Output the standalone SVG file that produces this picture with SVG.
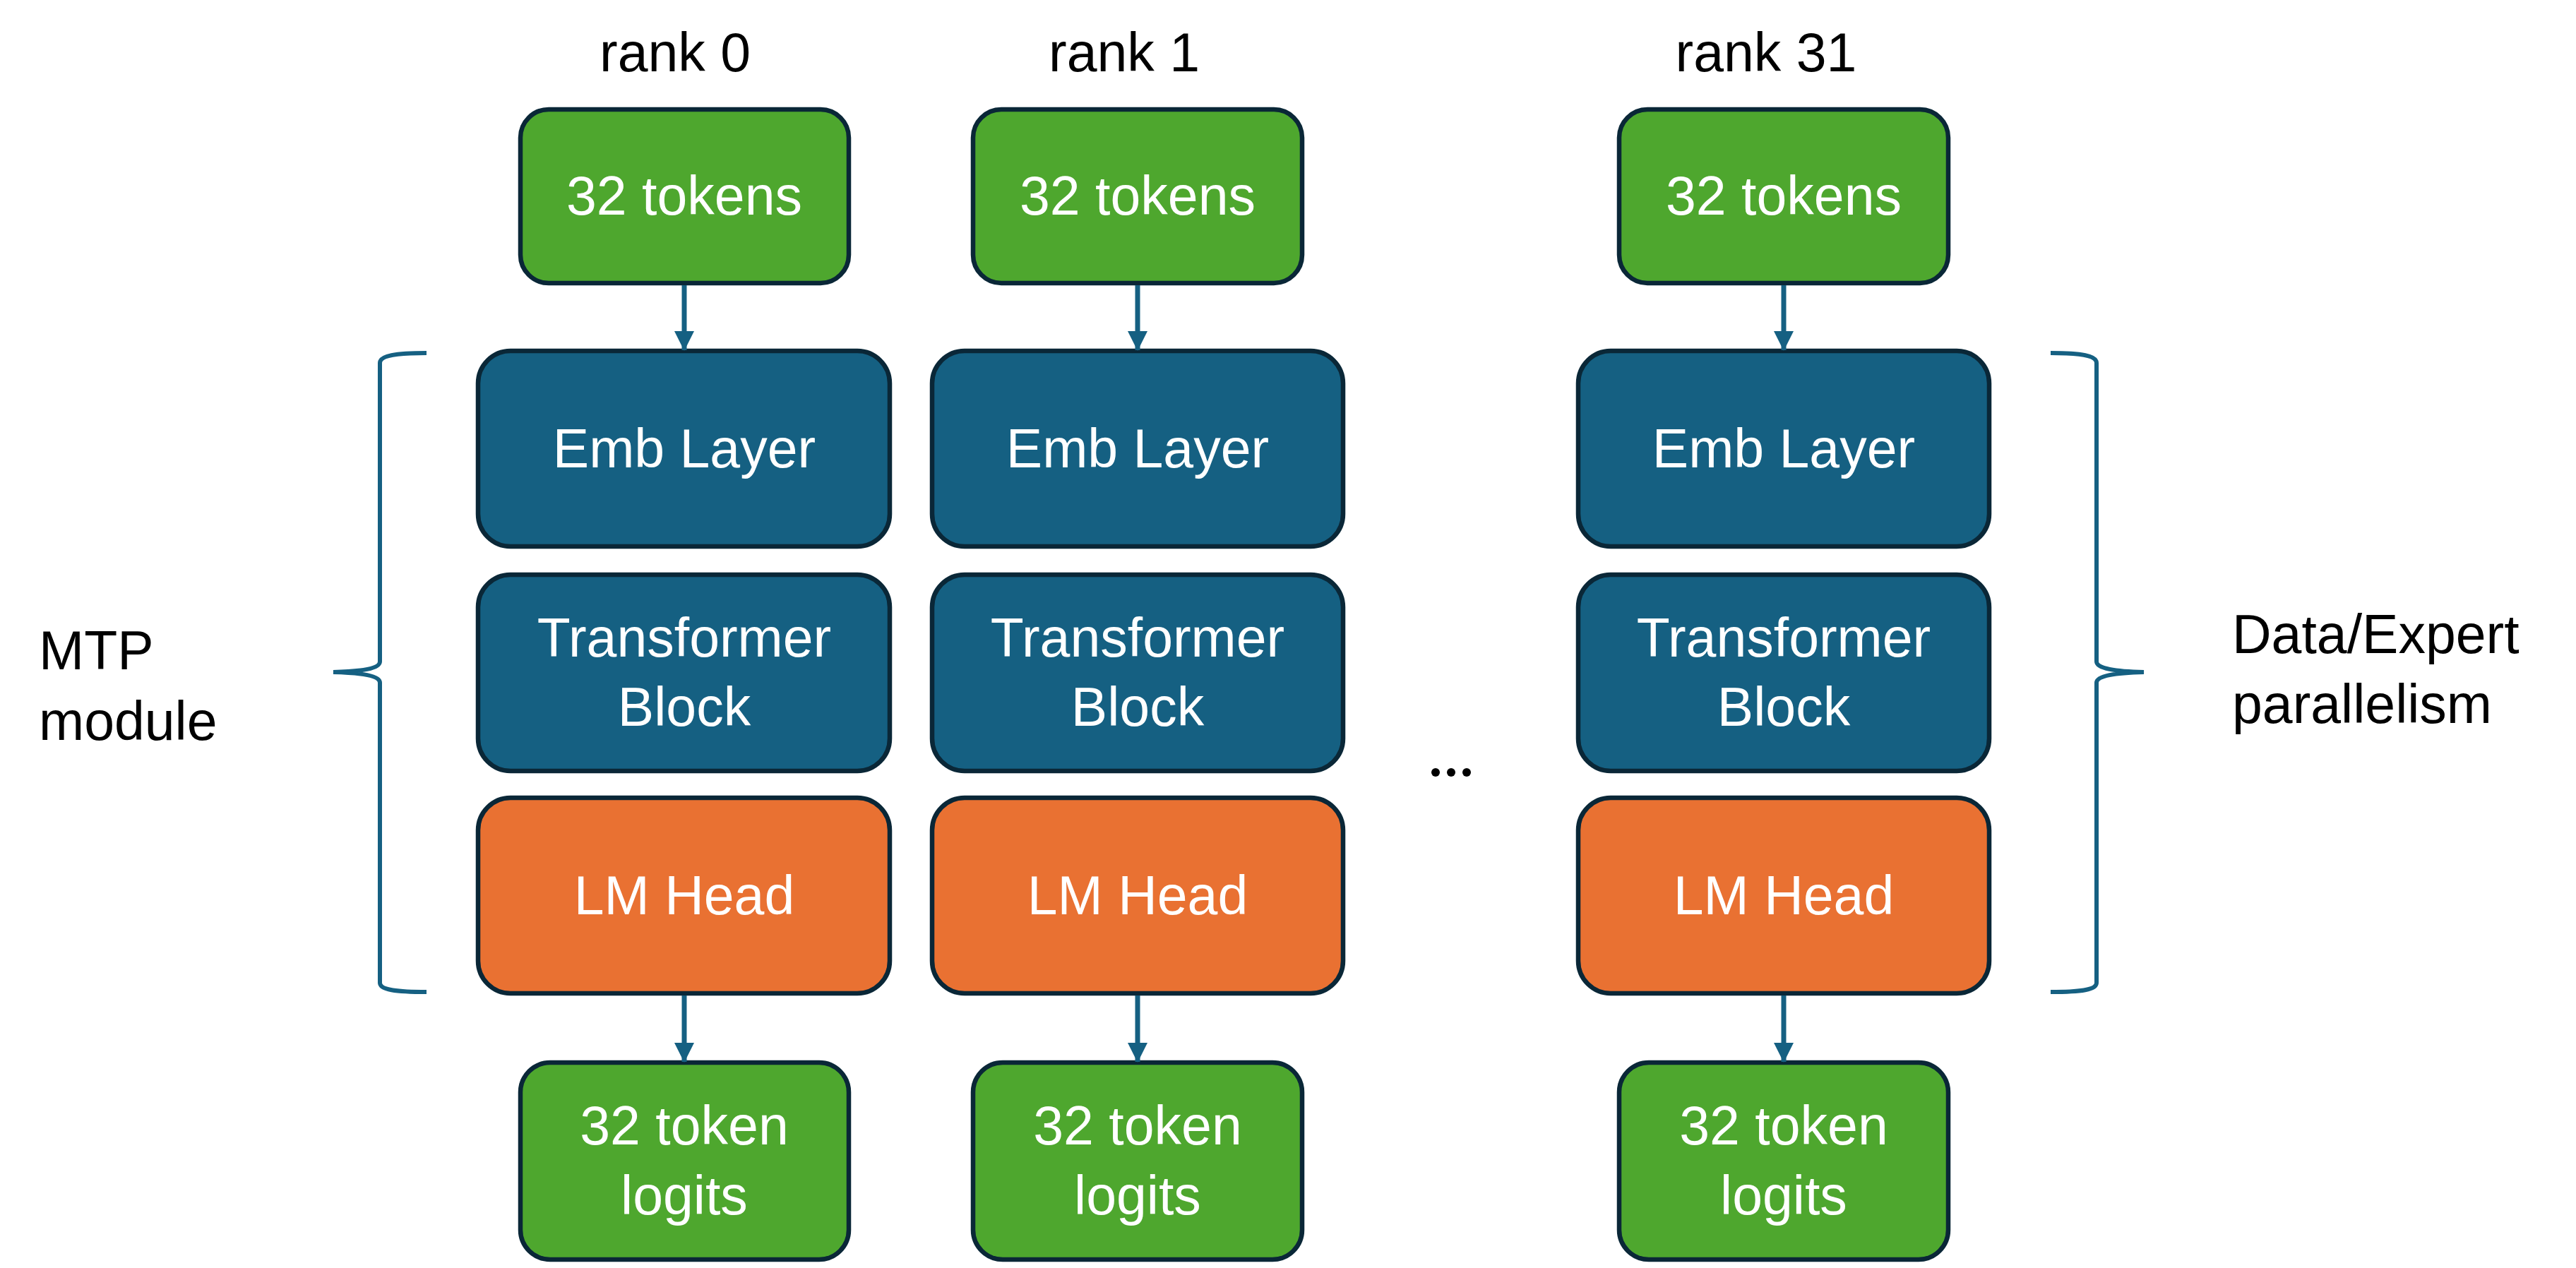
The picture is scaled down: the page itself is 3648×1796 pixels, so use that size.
<svg xmlns="http://www.w3.org/2000/svg" width="3648" height="1796" viewBox="0 0 3648 1796">
<style>
  .box { stroke: #0A2737; stroke-width: 6.5; }
  .green { fill: #4EA72E; }
  .blue { fill: #156082; }
  .orange { fill: #E97132; }
  .t { font-family: "Liberation Sans", Arial, sans-serif; font-size: 77px; }
  .w { fill: #FFFFFF; text-anchor: middle; }
  .k { fill: #000000; }
  .km { fill: #000000; text-anchor: middle; }
  .conn { stroke: #156082; stroke-width: 7; fill: none; }
  .brace { stroke: #156082; stroke-width: 6; fill: none; }
</style>
<defs>
  <marker id="ah" markerUnits="userSpaceOnUse" markerWidth="30" markerHeight="30" viewBox="0 0 30 30" refX="27" refY="15" orient="auto">
    <path d="M0,1 L28,15 L0,29 Z" fill="#156082"/>
  </marker>
</defs>
<rect width="3648" height="1796" fill="#FFFFFF"/>

<!-- rank labels -->
<text class="t km" x="956" y="101">rank 0</text>
<text class="t km" x="1592" y="101">rank 1</text>
<text class="t km" x="2501" y="101">rank 31</text>

<!-- column 0 -->
<g id="c0-tokens"><rect class="box green" x="737" y="155" width="465" height="246" rx="40"/><text class="t w" x="969" y="304">32 tokens</text></g>
<g id="c0-emb"><rect class="box blue" x="677" y="497" width="583" height="277" rx="46"/><text class="t w" x="969" y="662">Emb Layer</text></g>
<g id="c0-trans"><rect class="box blue" x="677" y="814" width="583" height="278" rx="46"/><text class="t w" x="969" y="930">Transformer</text><text class="t w" x="969" y="1028">Block</text></g>
<g id="c0-lm"><rect class="box orange" x="677" y="1130" width="583" height="277" rx="46"/><text class="t w" x="969" y="1295">LM Head</text></g>
<g id="c0-logits"><rect class="box green" x="737" y="1505" width="465" height="279" rx="42"/><text class="t w" x="969" y="1621">32 token</text><text class="t w" x="969" y="1720">logits</text></g>

<!-- column 1 -->
<g id="c1-tokens"><rect class="box green" x="1378" y="155" width="466" height="246" rx="40"/><text class="t w" x="1611" y="304">32 tokens</text></g>
<g id="c1-emb"><rect class="box blue" x="1320" y="497" width="582" height="277" rx="46"/><text class="t w" x="1611" y="662">Emb Layer</text></g>
<g id="c1-trans"><rect class="box blue" x="1320" y="814" width="582" height="278" rx="46"/><text class="t w" x="1611" y="930">Transformer</text><text class="t w" x="1611" y="1028">Block</text></g>
<g id="c1-lm"><rect class="box orange" x="1320" y="1130" width="582" height="277" rx="46"/><text class="t w" x="1611" y="1295">LM Head</text></g>
<g id="c1-logits"><rect class="box green" x="1378" y="1505" width="466" height="279" rx="42"/><text class="t w" x="1611" y="1621">32 token</text><text class="t w" x="1611" y="1720">logits</text></g>

<!-- column 31 -->
<g id="c31-tokens"><rect class="box green" x="2293" y="155" width="466" height="246" rx="40"/><text class="t w" x="2526" y="304">32 tokens</text></g>
<g id="c31-emb"><rect class="box blue" x="2235" y="497" width="582" height="277" rx="46"/><text class="t w" x="2526" y="662">Emb Layer</text></g>
<g id="c31-trans"><rect class="box blue" x="2235" y="814" width="582" height="278" rx="46"/><text class="t w" x="2526" y="930">Transformer</text><text class="t w" x="2526" y="1028">Block</text></g>
<g id="c31-lm"><rect class="box orange" x="2235" y="1130" width="582" height="277" rx="46"/><text class="t w" x="2526" y="1295">LM Head</text></g>
<g id="c31-logits"><rect class="box green" x="2293" y="1505" width="466" height="279" rx="42"/><text class="t w" x="2526" y="1621">32 token</text><text class="t w" x="2526" y="1720">logits</text></g>

<!-- connectors -->
<g id="connectors">
  <line class="conn" x1="969" y1="404" x2="969" y2="496" marker-end="url(#ah)"/>
  <line class="conn" x1="969" y1="1410" x2="969" y2="1504" marker-end="url(#ah)"/>
  <line class="conn" x1="1611" y1="404" x2="1611" y2="496" marker-end="url(#ah)"/>
  <line class="conn" x1="1611" y1="1410" x2="1611" y2="1504" marker-end="url(#ah)"/>
  <line class="conn" x1="2526" y1="404" x2="2526" y2="496" marker-end="url(#ah)"/>
  <line class="conn" x1="2526" y1="1410" x2="2526" y2="1504" marker-end="url(#ah)"/>
</g>

<!-- braces -->
<g id="brace-left">
  <path class="brace" d="M604,500 C560,500 538,504 538,514 L538,937 C538,947 512,951 472,952 C512,953 538,957 538,967 L538,1392 C538,1402 560,1405 604,1405"/>
</g>
<g id="brace-right">
  <path class="brace" d="M2904,500 C2948,500 2969,504 2969,514 L2969,937 C2969,947 2996,951 3036,952 C2996,953 2969,957 2969,967 L2969,1392 C2969,1402 2948,1405 2904,1405"/>
</g>

<!-- side labels -->
<g id="label-mtp"><text class="t k" x="55" y="948">MTP</text><text class="t k" x="55" y="1048">module</text></g>
<g id="label-parallel"><text class="t k" x="3161" y="925">Data/Expert</text><text class="t k" x="3161" y="1024">parallelism</text></g>

<!-- ellipsis -->
<g id="ellipsis" fill="#000000">
  <circle cx="2033" cy="1094" r="6"/>
  <circle cx="2055" cy="1094" r="6"/>
  <circle cx="2077" cy="1094" r="6"/>
</g>
</svg>
